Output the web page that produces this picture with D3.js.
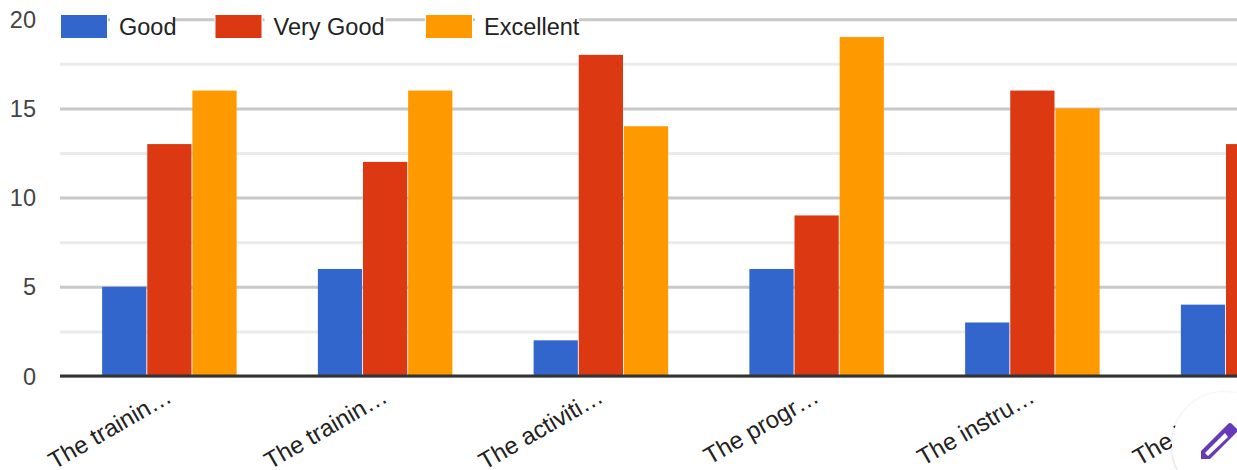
<!DOCTYPE html>
<html>
<head>
<meta charset="utf-8">
<script src="https://cdn.jsdelivr.net/npm/d3@7"></script>
<style>
html, body { margin: 0; padding: 0; background: #fff; overflow: hidden; }
svg { display: block; font-family: "Liberation Sans", Arial, sans-serif; }
</style>
</head>
<body>
<svg id="chart" width="1237" height="470"></svg>
<script>
var categories = ["The trainin…", "The trainin…", "The activiti…", "The progr…", "The instru…", "The instru…"];
var seriesNames = ["Good", "Very Good", "Excellent"];
var seriesColors = ["#3366cc", "#dc3912", "#ff9900"];
var good = [5, 6, 2, 6, 3, 4];
var veryGood = [13, 12, 18, 9, 16, 13];
// sixth orange bar is cut off by the picture edge, so there is nothing to read
var excellent = [16, 16, 14, 19, 15];
var seriesValues = [good, veryGood, excellent];
var majorTicks = [0, 5, 10, 15, 20];
var minorTicks = [2.5, 7.5, 12.5, 17.5];

var svg = d3.select("#chart");

var y = d3.scaleLinear().domain([0, 20]).range([376, 19.2]);
// six groups run past the right edge of the picture
var x = d3.scaleBand().domain(d3.range(categories.length)).range([61.5, 1356]);
var groupWidth = 134.5;
var inner = d3.scaleBand().domain(d3.range(seriesNames.length)).range([0, groupWidth]).paddingInner(0.02);

// gridlines
svg.append("g")
	.attr("transform", "translate(60,0)")
	.call(d3.axisLeft(y).tickValues(minorTicks).tickSize(-1177).tickFormat(""))
	.call(function(g){ g.select(".domain").remove(); })
	.selectAll("line")
	.attr("stroke", "#ebebeb")
	.attr("stroke-width", 3);

var yAxis = svg.append("g")
	.attr("transform", "translate(60,0)")
	.call(d3.axisLeft(y).tickValues(majorTicks).tickSize(-1177));
yAxis.select(".domain").remove();
yAxis.selectAll("line")
	.attr("stroke", "#c8c8c8")
	.attr("stroke-width", 3);
yAxis.selectAll("text")
	.attr("x", -24)
	.attr("dy", "0.34em")
	.attr("fill", "#444")
	.style("font-family", "inherit")
	.style("font-size", "23.5px");

// bars
var groups = svg.append("g").selectAll("g")
	.data(seriesValues)
	.join("g")
	.attr("fill", function(d, i){ return seriesColors[i]; });

groups.each(function(values, s){
	d3.select(this).selectAll("rect")
		.data(values)
		.join("rect")
		.attr("x", function(d, i){ return x(i) + (x.bandwidth() - groupWidth) / 2 + inner(s); })
		.attr("y", function(d){ return y(d); })
		.attr("width", inner.bandwidth())
		.attr("height", function(d){ return y(0) - y(d); });
});

// baseline
svg.append("line")
	.attr("x1", 60)
	.attr("x2", 1237)
	.attr("y1", y(0))
	.attr("y2", y(0))
	.attr("stroke", "#333")
	.attr("stroke-width", 3);

// category labels
var xAxis = svg.append("g")
	.attr("transform", "translate(4," + y(0) + ")")
	.call(d3.axisBottom(x).tickSize(0).tickFormat(function(i){ return categories[i]; }));
xAxis.select(".domain").remove();
xAxis.selectAll("text")
	.attr("text-anchor", "end")
	.attr("x", 0)
	.attr("y", 0)
	.attr("dy", 0)
	.attr("transform", "translate(0,25) rotate(-30)")
	.attr("fill", "#222")
	.style("font-family", "inherit")
	.style("font-size", "24px");

// legend
var legendX = [61, 215.5, 426];
var legend = svg.append("g").selectAll("g")
	.data(seriesNames)
	.join("g")
	.attr("transform", function(d, i){ return "translate(" + legendX[i] + ",15)"; });

legend.append("rect")
	.attr("x", -1)
	.attr("y", -1)
	.attr("width", 48)
	.attr("height", 25)
	.attr("fill", "#fff");
legend.append("rect")
	.attr("width", 46)
	.attr("height", 23)
	.attr("fill", function(d, i){ return seriesColors[i]; });
legend.append("rect")
	.attr("x", 49)
	.attr("y", -1)
	.attr("width", function(d, i){ return [64, 121, 104][i]; })
	.attr("height", 25)
	.attr("fill", "#fff");
legend.append("text")
	.attr("x", 58)
	.attr("y", 20)
	.attr("fill", "#222")
	.style("font-size", "23.5px")
	.text(function(d){ return d; });

// edit button in the corner
var shadow = svg.append("defs").append("filter").attr("id", "fabShadow")
	.attr("x", "-20%").attr("y", "-20%").attr("width", "140%").attr("height", "140%");
shadow.append("feDropShadow")
	.attr("dx", 0).attr("dy", 1).attr("stdDeviation", 1.5)
	.attr("flood-color", "#000").attr("flood-opacity", 0.25);
svg.append("circle")
	.attr("cx", 1225)
	.attr("cy", 445)
	.attr("r", 53)
	.attr("fill", "#fff")
	.attr("filter", "url(#fabShadow)");
svg.append("path")
	.attr("fill", "#673ab7")
	.attr("fill-rule", "evenodd")
	.attr("d", "M1201,459 L1201,451 L1228,424 Q1230,422 1232,424 L1237,429 L1237,432 L1210,459 Z M1205,453 L1208,456 L1228,437 L1225,433 Z");
</script>
</body>
</html>
